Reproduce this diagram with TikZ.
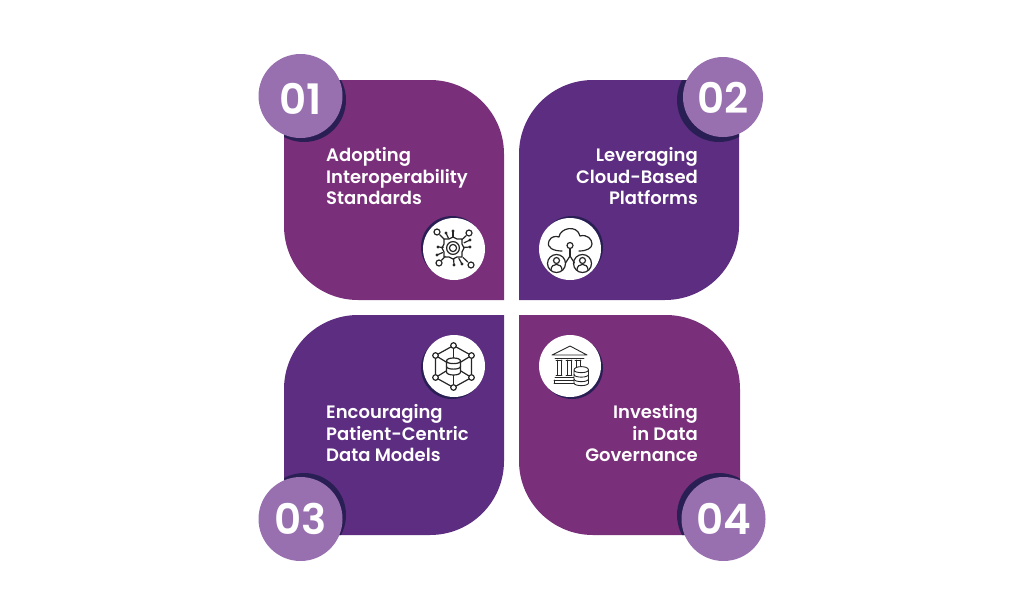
\documentclass[tikz,border=0pt]{standalone}
\usepackage{fontspec}
\setmainfont{Poppins SemiBold}
\newfontfamily\numfont{Poppins SemiBold}
\usepackage{tikz}
\definecolor{plum}{HTML}{7A2F7A}
\definecolor{grape}{HTML}{5C2D80}
\definecolor{lilac}{HTML}{9870B0}
\definecolor{inkblue}{HTML}{2A1F55}
\newcommand{\numlabel}[2]{\raisebox{-#1pt}[0pt][0pt]{#2}}
\tikzset{
  label text/.style={text=white, font=\fontsize{18}{21.5}\selectfont, inner sep=0pt},
  num dot/.style={circle, fill=lilac, text=white, minimum size=84pt, inner sep=0pt, font=\numfont\fontsize{42}{42}\selectfont},
  icon dot/.style={circle, fill=white, minimum size=62pt, inner sep=0pt},
  icon line/.style={draw=black!85, line width=1.2pt, line join=round, line cap=round},
}
\begin{document}
\begin{tikzpicture}[x=1pt, y=-1pt]
\useasboundingbox (0,0) rectangle (1024,597);

\fill[plum, path picture={
    \fill[inkblue] (304,100) circle (42);
    \fill[inkblue] (452,247) circle (31);}]
  (284,80) [rounded corners=74pt] -- (504,80) [sharp corners] -- (504,300) [rounded corners=74pt] -- (284,300) [sharp corners] -- cycle;
\fill[grape, path picture={
    \fill[inkblue] (719,100) circle (42);
    \fill[inkblue] (572,247) circle (31);}]
  (739,80) [rounded corners=74pt] -- (519,80) [sharp corners] -- (519,300) [rounded corners=74pt] -- (739,300) [sharp corners] -- cycle;
\fill[grape, path picture={
    \fill[inkblue] (304,515) circle (42);
    \fill[inkblue] (452,368) circle (31);}]
  (504,315) [rounded corners=74pt] -- (284,315) [sharp corners] -- (284,535) [rounded corners=74pt] -- (504,535) [sharp corners] -- cycle;
\fill[plum, path picture={
    \fill[inkblue] (719,515) circle (42);
    \fill[inkblue] (572,368) circle (31);}]
  (519,315) [rounded corners=74pt] -- (740,315) [sharp corners] -- (740,535) [rounded corners=74pt] -- (519,535) [sharp corners] -- cycle;

\node (numA) [num dot] at (300.5,96) {\numlabel{18}{01}};
\node (numB) [num dot, minimum size=80pt] at (723,97) {\numlabel{16.5}{02}};
\node (numC) [num dot] at (300.5,519) {\numlabel{15.5}{03}};
\node (numD) [num dot] at (723.5,519) {\numlabel{15.5}{04}};

\node (textA) [label text, align=left, anchor=west] at (326,176.5) {Adopting\\Interoperability\\Standards};
\node (textB) [label text, align=right, anchor=east] at (698,176.5) {Leveraging\\Cloud-Based\\Platforms};
\node (textC) [label text, align=left, anchor=west] at (326,433.5) {Encouraging\\Patient-Centric\\Data Models};
\node (textD) [label text, align=right, anchor=east] at (698,433.5) {Investing\\in Data\\Governance};

\node (iconA) [icon dot] at (454,249) {};
\node (iconB) [icon dot] at (570,249) {};
\node (iconC) [icon dot] at (454,366) {};
\node (iconD) [icon dot] at (570,366) {};

% chip with nodes
\begin{scope}[shift={(453,248)}, icon line]
  \draw (0,0) circle (3.6) (0,0) circle (6.4);
  \draw (0,-11) -- (4,-9) -- (9,-9) -- (9,-4) -- (11,0) -- (9,4) -- (9,9) -- (4,9) -- (0,11) -- (-4,9) -- (-9,9) -- (-9,4) -- (-11,0) -- (-9,-4) -- (-9,-9) -- (-4,-9) -- cycle;
  \foreach \a/\b in {-16/-16, 16/-15, -14/15, 18/17} {
    \draw (\a*0.56,\b*0.56) -- (\a*0.82,\b*0.82);
    \draw (\a,\b) circle (3);
  }
  \foreach \a/\b in {0/-17, -15/-1, 17/-1, 1/17, -7/-15, 17/-8, 9/16, -16/7} {
    \draw (\a*0.65,\b*0.65) -- (\a,\b);
    \fill[black!85] (\a,\b) circle (1.7);
  }
\end{scope}

% cloud with two users
\begin{scope}[shift={(570,248)}, icon line]
  \draw (-8,3) .. controls (-16,3) and (-24,0) .. (-21,-7) .. controls (-19,-12) and (-14,-12) .. (-11,-11) .. controls (-10,-20) and (7,-24) .. (10,-12) .. controls (17,-14) and (22,-9) .. (22,-4) .. controls (22,0) and (17,3) .. (9,3);
  \draw (0,-2.5) circle (3);
  \draw (0,0.5) -- (0,8);
  \draw (-4.5,15) -- (0,8) -- (4.5,15);
  \foreach \a in {-13.5,12.5} {
    \draw (\a,15.5) circle (9);
    \draw (\a,12.5) circle (3);
    \draw (\a-5.5,22) .. controls (\a-5.5,14.5) and (\a+5.5,14.5) .. (\a+5.5,22);
  }
\end{scope}

% hexagon around a database
\begin{scope}[shift={(453.5,366.5)}, icon line]
  \draw (0,-21) -- (18,-11) -- (18,11) -- (0,21) -- (-18,11) -- (-18,-11) -- cycle;
  \foreach \a/\b in {0/-21, 18/-11, 18/11, 0/21, -18/11, -18/-11} {
    \draw (0,0) -- (\a,\b);
  }
  \foreach \a/\b in {0/-21, 18/-11, 18/11, 0/21, -18/11, -18/-11} {
    \draw[fill=white] (\a,\b) circle (2.8);
  }
  \draw[fill=white] (-7,-5.5) -- (-7,5.5) .. controls (-7,9.5) and (7,9.5) .. (7,5.5) -- (7,-5.5) .. controls (7,-9.5) and (-7,-9.5) .. (-7,-5.5) .. controls (-7,-2) and (7,-2) .. (7,-5.5);
  \draw (-7,0) .. controls (-7,3.5) and (7,3.5) .. (7,0);
\end{scope}

% bank with a database
\begin{scope}[shift={(570,366)}, icon line, line width=0.9pt]
  \draw (-18,-11) -- (0,-20) -- (17,-11) -- cycle;
  \draw (-15,-8) -- (14,-8);
  \foreach \a in {-11,-1,8} {
    \draw (\a-2,-6) -- (\a-2,9) (\a+2,-6) -- (\a+2,9);
    \draw (\a-3,-6) -- (\a+3,-6);
    \draw (\a-3,9) -- (\a+3,9);
  }
  \draw (-15,11) -- (5,11) (-16,14) -- (5,14) (-16,17) -- (5,17);
  \draw (-16,14) -- (-16,17);
  \draw[fill=white] (4,4) -- (4,17) .. controls (4,20.5) and (18.5,20.5) .. (18.5,17) -- (18.5,4) .. controls (18.5,-0.5) and (4,-0.5) .. (4,4) .. controls (4,7.5) and (18.5,7.5) .. (18.5,4);
  \draw (4,8.5) .. controls (4,12) and (18.5,12) .. (18.5,8.5);
  \draw (4,13) .. controls (4,16.5) and (18.5,16.5) .. (18.5,13);
\end{scope}
\end{tikzpicture}
\end{document}
